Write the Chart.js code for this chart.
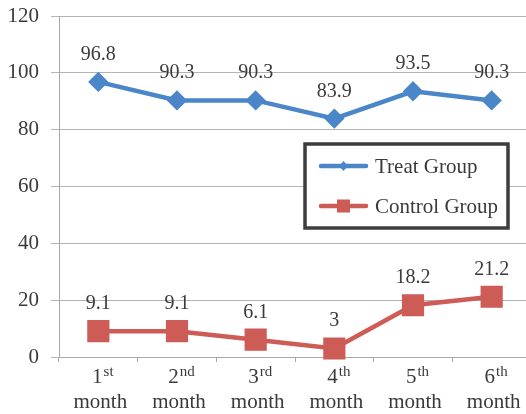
<!DOCTYPE html>
<html>
<head>
<meta charset="utf-8">
<script src="https://cdn.jsdelivr.net/npm/chart.js@4/dist/chart.umd.min.js"></script>
<style>
  html, body { margin: 0; padding: 0; background: #fff; overflow: hidden; }
  #c { display: block; }
</style>
</head>
<body>
<canvas id="c" width="532" height="414"></canvas>
<script>
// Monthly rates for the two groups
const ordinals = ['1', '2', '3', '4', '5', '6'];
const suffixes = ['st', 'nd', 'rd', 'th', 'th', 'th'];
const periodWord = 'month';
const seriesNames = ['Treat Group', 'Control Group'];
const treatGroup = [96.8, 90.3, 90.3, 83.9, 93.5, 90.3];
const controlGroup = [9.1, 9.1, 6.1, 3, 18.2, 21.2];
const yMin = 0, yMax = 120, yStep = 20;

const FONT = '"Liberation Serif", "Times New Roman", serif';
const TEXT = '#3a3a3a';
const BLUE = '#4a86c8';
const RED = '#cd5b56';

const categories = ordinals.map((o, i) => o + suffixes[i] + ' ' + periodWord);

// Value labels above each point
const valueLabels = {
  id: 'valueLabels',
  afterDatasetsDraw(chart) {
    const ctx = chart.ctx;
    ctx.save();
    ctx.font = '20px ' + FONT;
    ctx.fillStyle = TEXT;
    ctx.textAlign = 'center';
    ctx.textBaseline = 'alphabetic';
    chart.data.datasets.forEach((ds, di) => {
      chart.getDatasetMeta(di).data.forEach((pt, i) => {
        ctx.fillText(String(ds.data[i]), pt.x, pt.y - 22);
      });
    });
    ctx.restore();
  }
};

// Two-line category labels with superscript ordinal suffixes
const monthLabels = {
  id: 'monthLabels',
  afterDraw(chart) {
    const ctx = chart.ctx;
    const xs = chart.scales.x;
    const base = chart.chartArea.bottom;
    ctx.save();
    ctx.fillStyle = TEXT;
    ctx.textBaseline = 'alphabetic';
    ordinals.forEach((o, i) => {
      const cx = xs.getPixelForValue(i) + 2;
      ctx.font = '21px ' + FONT;
      const w1 = ctx.measureText(o).width;
      ctx.font = '15px ' + FONT;
      const w2 = ctx.measureText(suffixes[i]).width;
      const left = cx - (w1 + w2) / 2 + 2;
      ctx.textAlign = 'left';
      ctx.font = '21px ' + FONT;
      ctx.fillText(o, left, base + 26);
      ctx.font = '15px ' + FONT;
      ctx.fillText(suffixes[i], left + w1 + 1, base + 19);
      ctx.textAlign = 'center';
      ctx.font = '21px ' + FONT;
      ctx.fillText(periodWord, cx, base + 51);
    });
    ctx.restore();
  }
};

// Framed legend inside the plot
const boxLegend = {
  id: 'boxLegend',
  afterDatasetsDraw(chart) {
    const ctx = chart.ctx;
    const bx = 305, by = 144, bw = 203, bh = 84;
    ctx.save();
    ctx.fillStyle = '#fff';
    ctx.fillRect(bx, by, bw, bh);
    ctx.lineWidth = 3.5;
    ctx.strokeStyle = '#3d3d3d';
    ctx.strokeRect(bx, by, bw, bh);
    const rows = [
      { y: by + 22, color: BLUE, shape: 'diamond' },
      { y: by + 62, color: RED, shape: 'square' }
    ];
    rows.forEach((r, i) => {
      ctx.strokeStyle = r.color;
      ctx.lineWidth = 4.5;
      ctx.lineCap = 'round';
      ctx.beginPath();
      ctx.moveTo(321, r.y);
      ctx.lineTo(366, r.y);
      ctx.stroke();
      ctx.fillStyle = r.color;
      const mx = 343.5;
      if (r.shape === 'diamond') {
        ctx.beginPath();
        ctx.moveTo(mx, r.y - 5); ctx.lineTo(mx + 4.5, r.y);
        ctx.lineTo(mx, r.y + 5); ctx.lineTo(mx - 4.5, r.y);
        ctx.closePath(); ctx.fill();
      } else {
        ctx.fillRect(mx - 6.5, r.y - 6.5, 13, 13);
      }
      ctx.fillStyle = TEXT;
      ctx.font = '21px ' + FONT;
      ctx.textAlign = 'left';
      ctx.textBaseline = 'middle';
      ctx.fillText(seriesNames[i], 375, r.y + 1);
    });
    ctx.restore();
  }
};

new Chart(document.getElementById('c'), {
  type: 'line',
  data: {
    labels: categories,
    datasets: [
      {
        label: seriesNames[0],
        data: treatGroup,
        borderColor: BLUE,
        backgroundColor: BLUE,
        borderWidth: 4.5,
        pointStyle: 'rectRot',
        pointRadius: 7,
        pointHoverRadius: 7,
        tension: 0,
        clip: false
      },
      {
        label: seriesNames[1],
        data: controlGroup,
        borderColor: RED,
        backgroundColor: RED,
        borderWidth: 4.5,
        pointStyle: 'rect',
        pointRadius: 12.5,
        pointHoverRadius: 12.5,
        tension: 0,
        clip: false
      }
    ]
  },
  options: {
    responsive: false,
    animation: false,
    events: [],
    layout: { autoPadding: false, padding: { top: 16, right: 1, left: 0, bottom: 0 } },
    plugins: {
      legend: { display: false },
      tooltip: { enabled: false },
      title: { display: false }
    },
    scales: {
      x: {
        type: 'category',
        offset: true,
        grid: {
          offset: true,
          drawOnChartArea: false,
          drawTicks: true,
          tickLength: 5,
          color: '#a8a8a8'
        },
        border: { color: '#a8a8a8', width: 1 },
        ticks: { display: false },
        afterFit(scale) { scale.height = 57; }
      },
      y: {
        min: yMin,
        max: yMax,
        ticks: {
          stepSize: yStep,
          color: TEXT,
          font: { family: FONT, size: 21 },
          padding: 12
        },
        grid: { color: '#b4b4b4', tickLength: 8 },
        border: { color: '#a8a8a8', width: 1 },
        afterFit(scale) {
          scale.width = 59;
          scale.paddingTop = 0;
          scale.paddingBottom = 0;
        }
      }
    }
  },
  plugins: [valueLabels, boxLegend, monthLabels]
});
</script>
</body>
</html>
